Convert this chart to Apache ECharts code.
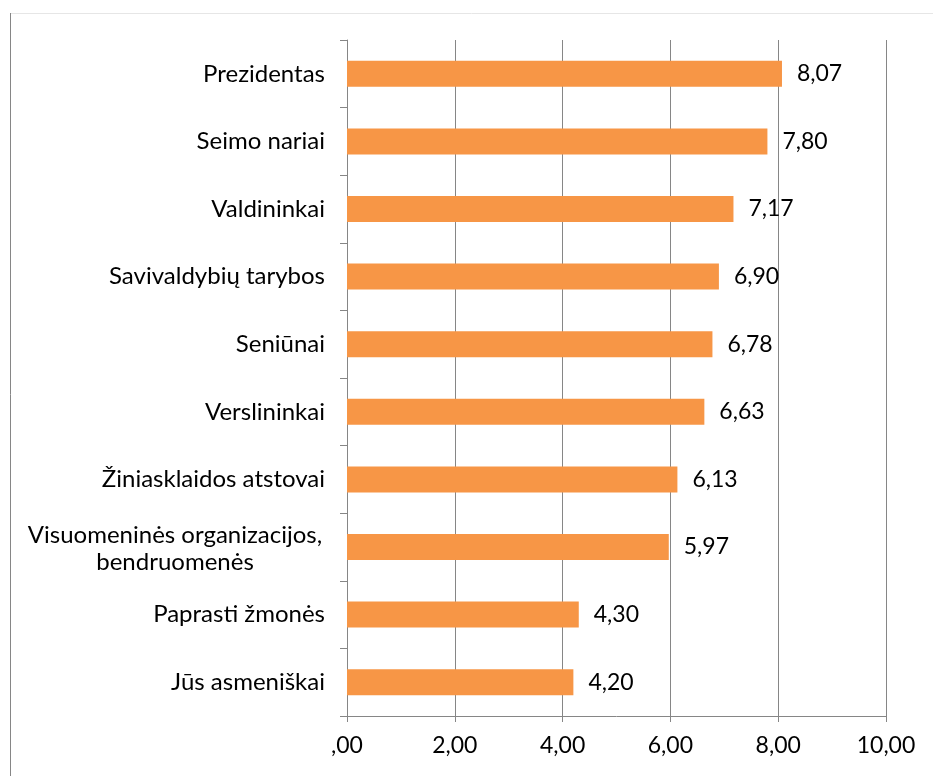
<!DOCTYPE html>
<html>
<head>
<meta charset="utf-8">
<script src="https://cdn.jsdelivr.net/npm/echarts@6/dist/echarts.min.js"></script>
<style>
html,body{margin:0;padding:0;background:#fff;}
#c{width:933px;height:776px;}
</style>
</head>
<body>
<div id="c"></div>
<script>
const categories = [
  'Prezidentas',
  'Seimo nariai',
  'Valdininkai',
  'Savivaldybių tarybos',
  'Seniūnai',
  'Verslininkai',
  'Žiniasklaidos atstovai',
  'Visuomeninės organizacijos,\nbendruomenės',
  'Paprasti žmonės',
  'Jūs asmeniškai'
];
const values = [8.07, 7.80, 7.17, 6.90, 6.78, 6.63, 6.13, 5.97, 4.30, 4.20];
const xTicks = [0, 2, 4, 6, 8, 10];

const FONT = 'Lato';
const fmt = v => {
  const s = v.toFixed(2).replace('.', ',');
  return s.startsWith('0,') ? s.slice(1) : s;
};

const chart = echarts.init(document.getElementById('c'), null, {renderer: 'canvas'});
chart.setOption({
  animation: false,
  textStyle: {fontFamily: FONT},
  grid: {left: 347, right: 47, top: 40, bottom: 60, containLabel: false},
  xAxis: {
    type: 'value',
    min: xTicks[0],
    max: xTicks[xTicks.length - 1],
    interval: 2,
    axisLine: {show: true, lineStyle: {color: '#868686', width: 1}},
    axisTick: {show: true, length: 6, lineStyle: {color: '#868686'}},
    splitLine: {show: true, lineStyle: {color: '#868686', width: 1}},
    axisLabel: {
      color: '#000', fontSize: 23, fontFamily: FONT, margin: 18,
      formatter: v => fmt(v)
    }
  },
  yAxis: {
    type: 'category',
    data: categories,
    inverse: true,
    axisLine: {show: true, lineStyle: {color: '#868686', width: 1}},
    axisTick: {show: true, length: 7, lineStyle: {color: '#868686'}},
    splitLine: {show: false},
    axisLabel: {
      color: '#000', fontSize: 24, fontFamily: FONT, margin: 22,
      lineHeight: 27,
      formatter: v => {
        if (v.indexOf('\n') >= 0) {
          return v.split('\n').map(l => '{c|' + l + '}').join('\n');
        }
        return v;
      },
      rich: {
        c: {width: 300, align: 'center', fontSize: 24, fontFamily: FONT, color: '#000', lineHeight: 27, padding: [3, 0, 0, 0]}
      }
    }
  },
  series: [{
    type: 'bar',
    data: values,
    barWidth: 26,
    itemStyle: {color: '#F79646'},
    label: {
      show: true,
      position: 'right',
      distance: 15,
      color: '#000',
      fontSize: 23,
      fontFamily: FONT,
      formatter: p => fmt(p.value)
    }
  }],
  graphic: [
    {type: 'line', shape: {x1: 10, y1: 13.5, x2: 933, y2: 13.5}, style: {stroke: '#e6e6e6', lineWidth: 1}, silent: true},
    {type: 'line', shape: {x1: 10.5, y1: 13, x2: 10.5, y2: 776}, style: {stroke: '#868686', lineWidth: 1}, silent: true}
  ]
});
</script>
</body>
</html>
